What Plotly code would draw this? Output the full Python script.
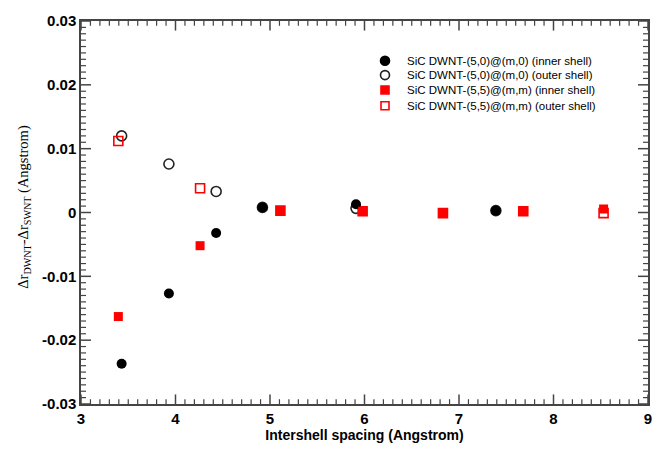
import plotly.graph_objects as go

# (5,0)@(m,0) double-walled tubes
zz_spacing = [3.43, 3.93, 4.43, 4.92, 5.91, 7.39]
zz_inner = [-0.0237, -0.0127, -0.0032, 0.0008, 0.0013, 0.0003]
zz_outer = [0.0120, 0.0076, 0.0033, 0.0008, 0.00065, 0.0003]

# (5,5)@(m,m) double-walled tubes
ac_spacing = [3.395, 4.26, 5.11, 5.98, 6.83, 7.68, 8.53]
ac_inner = [-0.0163, -0.0052, 0.0003, 0.0002, -0.0001, 0.0002, 0.00055]
ac_outer = [0.0112, 0.0038, 0.0003, 0.0002, -0.0001, 0.0002, -0.0001]

x_ticks = [3, 4, 5, 6, 7, 8, 9]
y_ticks = [-0.03, -0.02, -0.01, 0, 0.01, 0.02, 0.03]
y_tick_text = ["-0.03", "-0.02", "-0.01", "0", "0.01", "0.02", "0.03"]

legend_labels = [
    "SiC DWNT-(5,0)@(m,0) (inner shell)",
    "SiC DWNT-(5,0)@(m,0) (outer shell)",
    "SiC DWNT-(5,5)@(m,m) (inner shell)",
    "SiC DWNT-(5,5)@(m,m) (outer shell)",
]

RED = "#ff0000"
AXIS = "#444444"

W, H = 668, 453
ML, MR, MT, MB = 81, 20, 12, 41
PW, PH = W - ML - MR, H - MT - MB

fig = go.Figure()
fig.add_trace(go.Scatter(
    x=zz_spacing, y=zz_outer, mode="markers", name=legend_labels[1],
    marker=dict(symbol="circle-open", size=10, color="#222222", line=dict(width=1.6))))
fig.add_trace(go.Scatter(
    x=ac_spacing, y=ac_outer, mode="markers", name=legend_labels[3],
    marker=dict(symbol="square-open", size=9, color=RED, line=dict(width=1.6))))
fig.add_trace(go.Scatter(
    x=zz_spacing, y=zz_inner, mode="markers", name=legend_labels[0],
    marker=dict(symbol="circle", size=10, color="#000000")))
fig.add_trace(go.Scatter(
    x=ac_spacing, y=ac_inner, mode="markers", name=legend_labels[2],
    marker=dict(symbol="square", size=9, color=RED)))


def px_x(px):
    return (px - ML) / PW


def px_y(py):
    return (MT + PH - py) / PH


def paper_dy(pixels):
    return pixels / PH


def paper_dx(pixels):
    return pixels / PW


shapes = []
annotations = []

# Inward tick marks on all four sides (major every unit / 0.01, minor every tenth)
def x_tick(xv, length, width):
    for base, sign in ((0.0, 1), (1.0, -1)):
        shapes.append(dict(
            type="line", xref="x", yref="paper",
            x0=xv, x1=xv, y0=base, y1=base + sign * paper_dy(length),
            line=dict(color=AXIS, width=width), layer="above"))


def y_tick(yv, length, width):
    for base, sign in ((0.0, 1), (1.0, -1)):
        shapes.append(dict(
            type="line", xref="paper", yref="y",
            x0=base, x1=base + sign * paper_dx(length), y0=yv, y1=yv,
            line=dict(color=AXIS, width=width), layer="above"))


x_lo, x_hi = x_ticks[0], x_ticks[-1]
for i in range(int(round((x_hi - x_lo) * 10)) + 1):
    if i % 10:
        x_tick(x_lo + i * 0.1, 5, 1.2)
for v in x_ticks:
    x_tick(v, 10, 1.5)

y_lo, y_hi = y_ticks[0], y_ticks[-1]
for i in range(int(round((y_hi - y_lo) * 1000)) + 1):
    if i % 10:
        y_tick(y_lo + i * 0.001, 5, 1.2)
for v in y_ticks:
    y_tick(v, 10, 1.5)

# Compact legend: key symbols as pixel-sized shapes, labels as annotations
key_x = 385
text_x = 405
row_y = [53.5, 68.5, 84, 100.5]
key_styles = [
    dict(type="circle", fill="#000000", line="#000000"),
    dict(type="circle", fill="rgba(0,0,0,0)", line="#222222"),
    dict(type="rect", fill=RED, line=RED),
    dict(type="rect", fill="rgba(0,0,0,0)", line=RED),
]
for label, ry, st in zip(legend_labels, row_y, key_styles):
    half = 4.5 if st["type"] == "circle" else 4
    shapes.append(dict(
        type=st["type"], xref="paper", yref="paper",
        xsizemode="pixel", ysizemode="pixel",
        xanchor=px_x(key_x), yanchor=px_y(ry),
        x0=-half, x1=half, y0=-half, y1=half,
        fillcolor=st["fill"], line=dict(color=st["line"], width=1.6),
    ))
    annotations.append(dict(
        text=label, xref="paper", yref="paper",
        x=px_x(text_x), y=px_y(ry), xanchor="left", yanchor="middle",
        showarrow=False,
        font=dict(family="Liberation Sans", size=11.5, color="#000000"),
    ))

# Rotated y-axis title
annotations.append(dict(
    text="Δr<sub>DWNT</sub>-Δr<sub>SWNT</sub> (Angstrom)",
    xref="paper", yref="paper", x=px_x(24), y=px_y(206),
    xanchor="center", yanchor="middle", textangle=-90, showarrow=False,
    font=dict(family="Liberation Serif", size=14.5, color="#000000"),
))

tick_font = dict(family="Liberation Sans", size=15, color="#000000", weight="bold")

fig.update_layout(
    width=W, height=H,
    margin=dict(l=ML, r=MR, t=MT, b=MB),
    paper_bgcolor="white", plot_bgcolor="white",
    showlegend=False,
    shapes=shapes,
    annotations=annotations,
    xaxis=dict(
        range=[x_lo, x_hi], tickmode="array", tickvals=x_ticks,
        showline=True, linecolor=AXIS, linewidth=1.5, mirror=True,
        ticks="", showgrid=False, zeroline=False, tickfont=tick_font,
        title=dict(text="Intershell spacing (Angstrom)", standoff=4,
                   font=dict(family="Liberation Sans", size=14, color="#000000", weight="bold")),
    ),
    yaxis=dict(
        range=[y_lo, y_hi], tickmode="array", tickvals=y_ticks, ticktext=y_tick_text,
        showline=True, linecolor=AXIS, linewidth=1.5, mirror=True,
        ticks="", showgrid=False, zeroline=False, tickfont=tick_font,
    ),
)

fig.write_html("out.html")
